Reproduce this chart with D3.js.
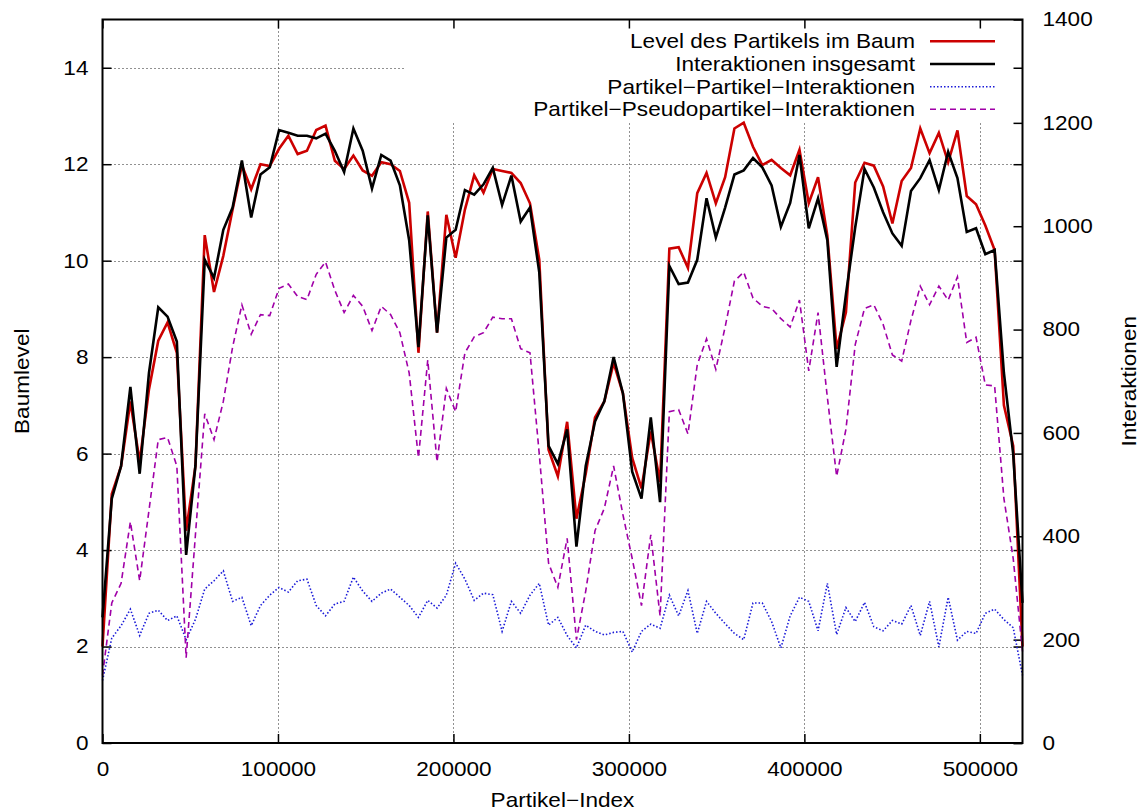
<!DOCTYPE html>
<html>
<head>
<meta charset="utf-8">
<script src="https://cdn.jsdelivr.net/npm/d3@7"></script>
<style>
  body { margin: 0; background: #fff; }
  svg { display: block; font-family: "Liberation Sans", Arial, Helvetica, sans-serif; }
</style>
</head>
<body>
<svg id="chart" width="1148" height="811"></svg>
<script>
// Tree level of the particle (left axis) and interaction counts (right axis),
// sampled at 100 evenly spaced particle indices.
const sampleStep = 5296;
const particleIndex = d3.range(100).map(i => i * sampleStep);

const treeLevel = [
  2.0, 5.16, 5.74, 7.08, 5.83, 7.33, 8.34, 8.72, 8.09, 4.40,
  5.74, 10.53, 9.35, 10.1, 11.06, 11.98, 11.48, 12.0, 11.96, 12.32,
  12.59, 12.21, 12.28, 12.71, 12.80, 12.07, 11.90, 12.18, 11.87, 11.76,
  12.04, 12.0, 11.86, 11.20, 8.09, 11.02, 8.51, 10.95, 10.06, 11.06,
  11.77, 11.41, 11.90, 11.86, 11.82, 11.61, 11.19, 10.02, 6.08, 5.53,
  6.66, 4.65, 5.58, 6.75, 7.08, 7.88, 7.25, 5.91, 5.28, 6.46,
  5.41, 10.25, 10.28, 9.85, 11.40, 11.82, 11.19, 11.73, 12.74, 12.86,
  12.36, 11.98, 12.09, 11.92, 11.77, 12.30, 11.19, 11.73, 10.52, 8.17,
  8.93, 11.62, 12.03, 11.97, 11.54, 10.77, 11.65, 11.92, 12.74, 12.23,
  12.65, 12.04, 12.70, 11.34, 11.17, 10.73, 10.22, 7.0, 6.16, 2.0
];

const totalInteractions = [
  243, 473, 536, 689, 521, 716, 843, 825, 777, 364,
  536, 935, 900, 993, 1036, 1127, 1017, 1100, 1114, 1186,
  1181, 1175, 1175, 1170, 1179, 1146, 1105, 1189, 1146, 1073,
  1138, 1127, 1079, 973, 766, 1021, 794, 978, 993, 1070,
  1061, 1081, 1113, 1041, 1098, 1009, 1036, 911, 575, 540,
  607, 380, 536, 622, 661, 747, 677, 525, 473, 630,
  466, 923, 888, 891, 935, 1054, 978, 1036, 1100, 1108,
  1132, 1114, 1079, 999, 1045, 1138, 996, 1054, 973, 728,
  868, 998, 1111, 1075, 1027, 986, 962, 1068, 1093, 1128,
  1070, 1144, 1093, 989, 996, 946, 954, 716, 559, 271
];

const particleParticle = [
  121, 203, 227, 259, 208, 251, 257, 237, 246, 200,
  239, 298, 314, 333, 274, 282, 227, 266, 286, 301,
  292, 314, 317, 266, 246, 269, 274, 321, 294, 274,
  290, 298, 282, 266, 243, 276, 261, 286, 348, 317,
  276, 290, 287, 216, 274, 251, 286, 309, 228, 243,
  208, 184, 228, 216, 209, 214, 216, 176, 216, 230,
  222, 286, 246, 295, 212, 274, 251, 231, 212, 200,
  271, 271, 235, 184, 246, 282, 274, 217, 309, 210,
  262, 235, 272, 225, 217, 237, 230, 266, 208, 274,
  186, 282, 199, 216, 212, 251, 259, 239, 223, 131
];

const particlePseudo = [
  131, 271, 309, 428, 314, 450, 587, 591, 536, 165,
  403, 637, 587, 661, 766, 848, 791, 829, 827, 880,
  888, 864, 858, 907, 931, 876, 833, 866, 845, 798,
  845, 829, 794, 716, 552, 741, 544, 686, 641, 755,
  786, 794, 824, 821, 821, 763, 755, 559, 348, 301,
  396, 200, 294, 411, 454, 536, 442, 357, 266, 403,
  246, 641, 645, 598, 732, 782, 723, 805, 894, 911,
  861, 845, 841, 821, 805, 857, 720, 833, 669, 516,
  607, 771, 841, 848, 810, 751, 739, 818, 884, 848,
  884, 857, 902, 775, 785, 693, 691, 473, 357, 177
];

const levelTicks = [0, 2, 4, 6, 8, 10, 12, 14];
const interactionTicks = [0, 200, 400, 600, 800, 1000, 1200, 1400];
const indexTicks = [0, 100000, 200000, 300000, 400000, 500000];

const seriesLabels = [
  "Level des Partikels im Baum",
  "Interaktionen insgesamt",
  "Partikel\u2212Partikel\u2212Interaktionen",
  "Partikel\u2212Pseudopartikel\u2212Interaktionen"
];

// ---- layout ----
const plot = { left: 102.5, right: 1022.5, top: 19.5, bottom: 743 };
const fontSize = 20;
const stretch = 1.13;   // the label face runs a little wider than Liberation Sans

const svg = d3.select("#chart");

const x = d3.scaleLinear().domain([0, particleIndex[particleIndex.length - 1]]).range([plot.left, plot.right]);
const yLevel = d3.scaleLinear().domain([0, 15]).range([plot.bottom, plot.top]);
const yInter = d3.scaleLinear().domain([0, 1400]).range([plot.bottom, plot.top]);

// ---- grid ----
const grid = svg.append("g")
  .attr("stroke", "#222")
  .attr("stroke-width", 1)
  .attr("stroke-dasharray", "1,3");
grid.selectAll("line.h").data(levelTicks.filter(d => d > 0)).join("line")
  .attr("class", "h")
  .attr("x1", plot.left).attr("x2", plot.right)
  .attr("y1", d => Math.round(yLevel(d)) + 0.5).attr("y2", d => Math.round(yLevel(d)) + 0.5);
grid.selectAll("line.v").data(indexTicks.filter(d => d > 0)).join("line")
  .attr("class", "v")
  .attr("y1", plot.top).attr("y2", plot.bottom)
  .attr("x1", d => Math.round(x(d)) + 0.5).attr("x2", d => Math.round(x(d)) + 0.5);

// key area is kept clear of the grid
svg.append("rect")
  .attr("x", 405).attr("y", plot.top)
  .attr("width", plot.right - 405).attr("height", 121 - plot.top)
  .attr("fill", "#fff");

// ---- axes ----
function styleAxis(g, dx) {
  g.select(".domain").remove();
  g.selectAll(".tick line").attr("stroke", "#000").attr("stroke-width", 1.5);
  g.selectAll(".tick text")
    .attr("font-size", fontSize)
    .attr("font-family", '"Liberation Sans", Arial, sans-serif')
    .attr("fill", "#000")
    .each(function () {
      const t = d3.select(this);
      const xv = +t.attr("x") || 0;
      t.attr("x", xv / stretch).attr("transform", `scale(${stretch},1)`);
    });
}

svg.append("g")
  .attr("transform", `translate(${plot.left},0)`)
  .call(d3.axisLeft(yLevel).tickValues(levelTicks).tickSize(-9).tickPadding(14).tickFormat(d3.format("d")))
  .call(styleAxis);

// mirrored level ticks on the right border
svg.append("g")
  .attr("transform", `translate(${plot.right},0)`)
  .call(d3.axisRight(yLevel).tickValues(levelTicks).tickSize(-9).tickFormat(""))
  .call(styleAxis);

svg.append("g")
  .attr("transform", `translate(${plot.right},0)`)
  .call(d3.axisRight(yInter).tickValues(interactionTicks).tickSize(-9).tickPadding(20).tickFormat(d3.format("d")))
  .call(styleAxis);

const xAxis = svg.append("g")
  .attr("transform", `translate(0,${plot.bottom})`)
  .call(d3.axisBottom(x).tickValues(indexTicks).tickSize(-9).tickPadding(19).tickFormat(d3.format("d")))
  .call(styleAxis);

svg.append("g")
  .attr("transform", `translate(0,${plot.top})`)
  .call(d3.axisTop(x).tickValues(indexTicks).tickSize(-9).tickFormat(""))
  .call(styleAxis);

// ---- series ----
const levelLine = d3.line().x((d, i) => x(particleIndex[i])).y(d => yLevel(d));
const interLine = d3.line().x((d, i) => x(particleIndex[i])).y(d => yInter(d));

const series = [
  { data: treeLevel, line: levelLine, color: "#cc0000", width: 2.6, dash: null },
  { data: totalInteractions, line: interLine, color: "#000000", width: 2.6, dash: null },
  { data: particleParticle, line: interLine, color: "#1a1ad8", width: 1.6, dash: "1.5,2" },
  { data: particlePseudo, line: interLine, color: "#a000a8", width: 1.6, dash: "6,4" }
];

const plotArea = svg.append("g");
series.forEach(s => {
  plotArea.append("path")
    .datum(s.data)
    .attr("fill", "none")
    .attr("stroke", s.color)
    .attr("stroke-width", s.width)
    .attr("stroke-linejoin", "miter")
    .attr("stroke-dasharray", s.dash)
    .attr("d", s.line);
});

// ---- frame ----
svg.append("rect")
  .attr("x", plot.left).attr("y", plot.top)
  .attr("width", plot.right - plot.left).attr("height", plot.bottom - plot.top)
  .attr("fill", "none").attr("stroke", "#000").attr("stroke-width", 2);

// ---- key ----
const keyRowY = [41.3, 64, 86.7, 109.3];
const key = svg.append("g");
series.forEach((s, i) => {
  key.append("text")
    .attr("x", 915 / stretch).attr("y", keyRowY[i])
    .attr("dy", "0.35em")
    .attr("transform", `scale(${stretch},1)`)
    .attr("text-anchor", "end")
    .attr("font-size", fontSize)
    .text(seriesLabels[i]);
  key.append("line")
    .attr("x1", 930).attr("x2", 995)
    .attr("y1", keyRowY[i]).attr("y2", keyRowY[i])
    .attr("stroke", s.color)
    .attr("stroke-width", s.width)
    .attr("stroke-dasharray", s.dash);
});

// ---- axis titles ----
svg.append("text")
  .attr("transform", `translate(${(plot.left + plot.right) / 2},807) scale(${stretch},1)`)
  .attr("text-anchor", "middle")
  .attr("font-size", fontSize)
  .text("Partikel\u2212Index");

svg.append("text")
  .attr("transform", `translate(29,${(plot.top + plot.bottom) / 2}) rotate(-90) scale(${stretch},1)`)
  .attr("text-anchor", "middle")
  .attr("font-size", fontSize)
  .text("Baumlevel");

svg.append("text")
  .attr("transform", `translate(1136,${(plot.top + plot.bottom) / 2}) rotate(-90) scale(${stretch},1)`)
  .attr("text-anchor", "middle")
  .attr("font-size", fontSize)
  .text("Interaktionen");
</script>
</body>
</html>
